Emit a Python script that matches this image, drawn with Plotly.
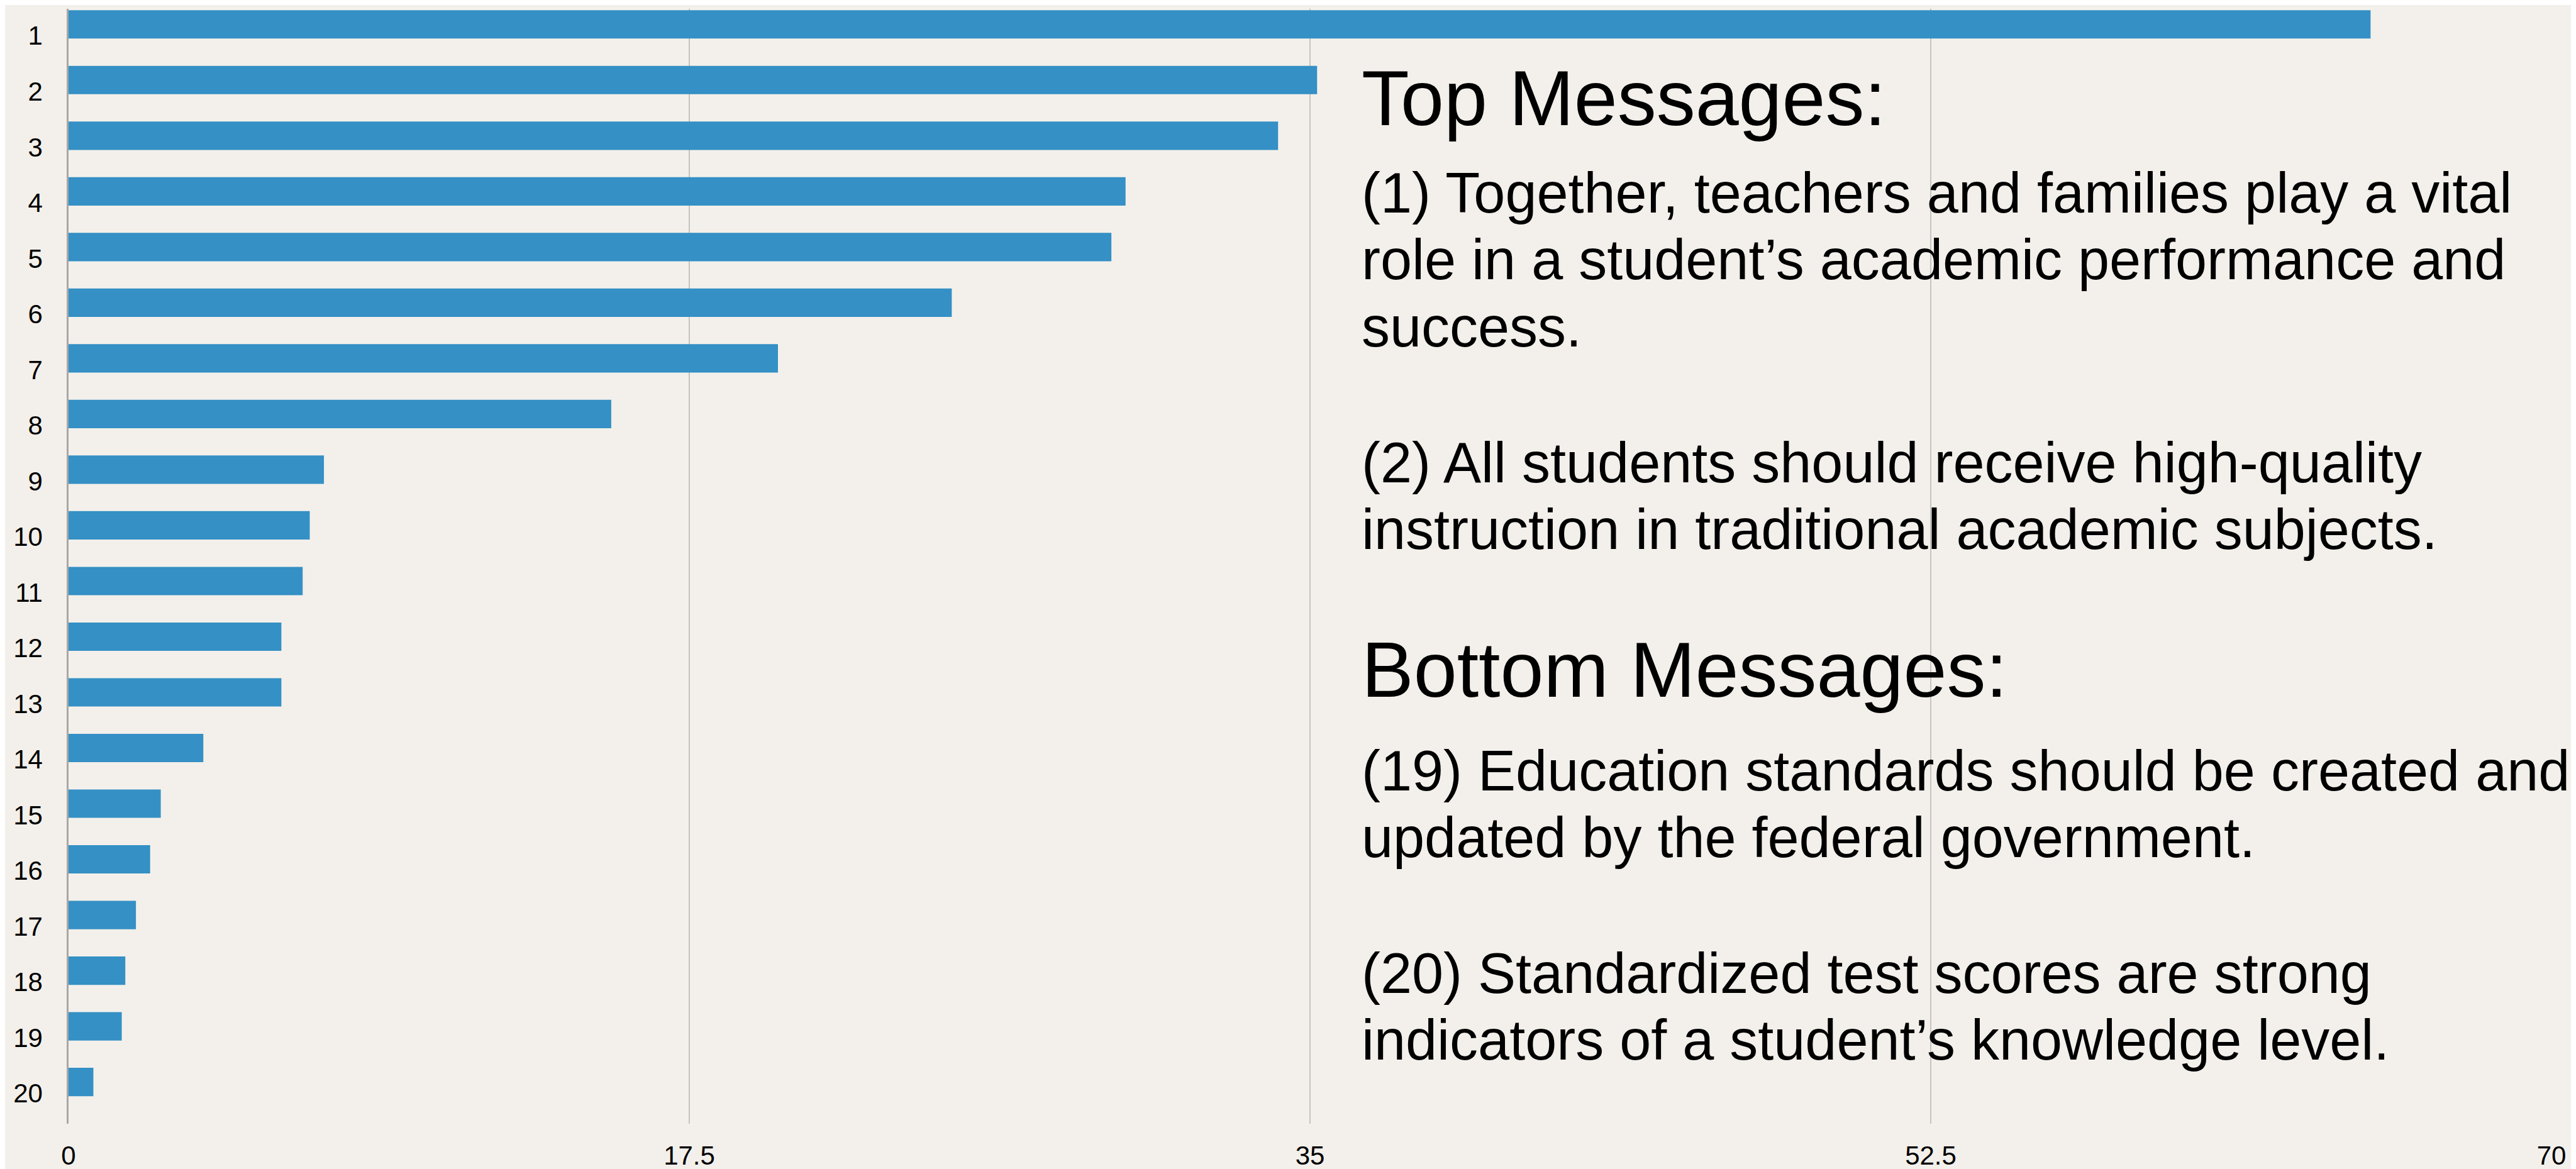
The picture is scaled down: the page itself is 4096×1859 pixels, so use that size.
import plotly.graph_objects as go

# ---- data ----
categories = [str(i) for i in range(1, 21)]
values = [64.9, 35.2, 34.1, 29.8, 29.4, 24.9, 20.0, 15.3, 7.2, 6.8,
          6.6, 6.0, 6.0, 3.8, 2.6, 2.3, 1.9, 1.6, 1.5, 0.7]
x_ticks = [0, 17.5, 35, 52.5, 70]
x_tick_labels = ["0", "17.5", "35", "52.5", "70"]

heading_top = "Top Messages:"
heading_bottom = "Bottom Messages:"
para_1 = ["(1) Together, teachers and families play a vital",
          "role in a student\u2019s academic performance and",
          "success."]
para_2 = ["(2) All students should receive high-quality",
          "instruction in traditional academic subjects."]
para_19 = ["(19) Education standards should be created and",
           "updated by the federal government."]
para_20 = ["(20) Standardized test scores are strong",
           "indicators of a student\u2019s knowledge level."]

# ---- layout geometry (pixels in 4096x1859 window) ----
W, H = 4096, 1859
ML, MR, MT, MB = 101, 47, 6, 71
PW = W - ML - MR
PH = H - MT - MB
FONT = "Liberation Sans, Arial, Helvetica, sans-serif"
BG = "#f3f0eb"
BAR = "#3490c5"


def xp(px):
    return (px - ML) / PW


def yp(py):
    return (H - MB - py) / PH


fig = go.Figure()
fig.add_trace(go.Bar(
    x=values, y=categories, orientation="h",
    marker=dict(color=BAR, line=dict(width=0)),
    hoverinfo="x+y",
))

annotations = []
TEXT_X = 2156
HEAD_FS = 124
PARA_FS = 90


def add_line(text, baseline, fs):
    annotations.append(dict(
        text=text, xref="paper", yref="paper",
        x=xp(TEXT_X), y=yp(baseline - 0.35 * fs),
        xanchor="left", yanchor="middle", showarrow=False,
        borderpad=0, align="left",
        font=dict(family=FONT, size=fs, color="#000000"),
    ))


add_line(heading_top, 192, HEAD_FS)
for t, b in zip(para_1, [332, 439, 546]):
    add_line(t, b, PARA_FS)
for t, b in zip(para_2, [763, 870]):
    add_line(t, b, PARA_FS)
add_line(heading_bottom, 1106, HEAD_FS)
for t, b in zip(para_19, [1256, 1362]):
    add_line(t, b, PARA_FS)
for t, b in zip(para_20, [1579, 1686]):
    add_line(t, b, PARA_FS)

fig.update_layout(
    width=W, height=H,
    margin=dict(l=ML, r=MR, t=MT, b=MB, pad=0),
    paper_bgcolor=BG, plot_bgcolor=BG,
    bargap=0.49,
    showlegend=False,
    annotations=annotations,
    font=dict(family=FONT, color="#000000"),
)
fig.update_xaxes(
    range=[0, 70], tickvals=x_ticks, ticktext=x_tick_labels,
    showgrid=True, gridcolor="#c6c4c0", gridwidth=1.6,
    zeroline=False, showline=False, ticks="",
    tickfont=dict(family=FONT, size=42, color="#000000"),
    ticklabelstandoff=22,
)
fig.update_yaxes(
    type="category", range=[19.75, -0.28],
    showgrid=False, zeroline=False,
    showline=True, linecolor="#a9a7a4", linewidth=2.5,
    ticks="", tickfont=dict(family=FONT, size=42, color="#000000"),
    ticklabelstandoff=30, ticklabelshift=-18,
)

fig.write_html("out.html")
